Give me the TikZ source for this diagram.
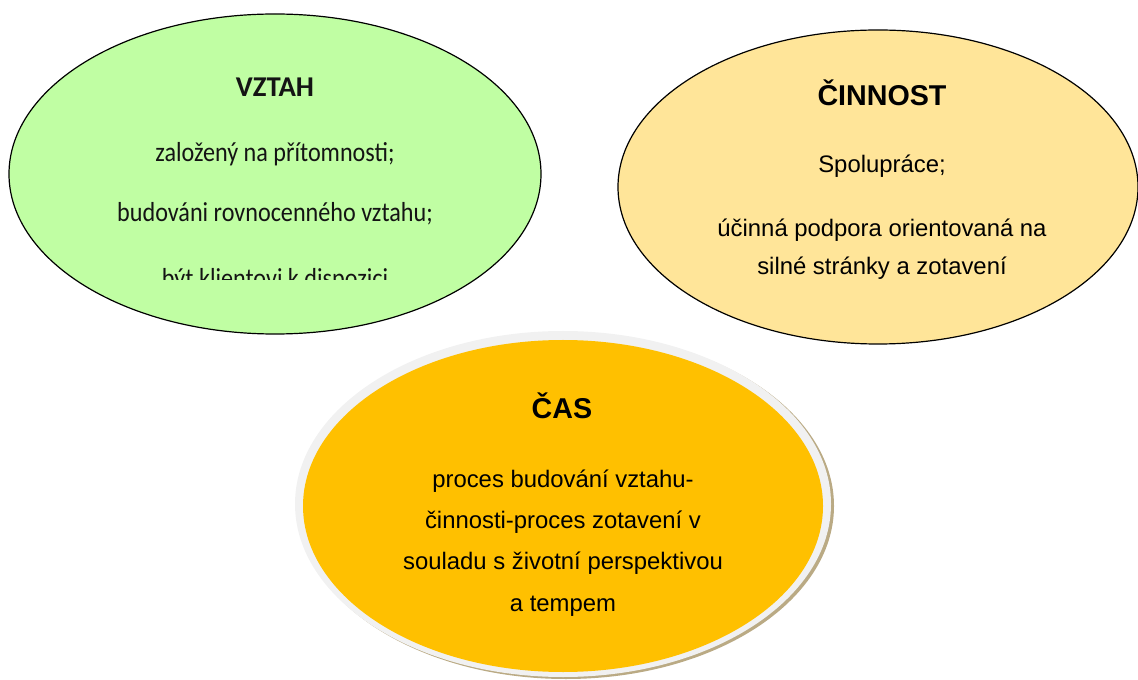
\documentclass[tikz,border=0pt]{standalone}
\usepackage{fontspec}
\setmainfont{Liberation Sans}
\newfontfamily\calfont{Carlito}
\newfontfamily\calnarrow[FakeStretch=0.88]{Carlito}
\usepackage{xcolor}
\usepackage{tikz}
\usetikzlibrary{shapes.geometric}
\definecolor{ink}{RGB}{20,20,20}
\definecolor{vztahfill}{RGB}{192,254,163}
\definecolor{cinfill}{RGB}{255,229,153}
\definecolor{casfill}{RGB}{255,192,0}
\definecolor{casrim}{RGB}{241,241,241}
\definecolor{casshade}{RGB}{186,170,132}
\tikzset{
  oval/.style={
    ellipse, draw=black, line width=0.9pt, fill=#1, inner sep=0pt,
  },
  oval/.default=white,
  ttl/.style={anchor=base, font=\fontsize{21.5}{24}\selectfont\bfseries, text=black},
  txt/.style={anchor=base, font=\fontsize{17.9}{21}\selectfont, text=black},
  cttl/.style={anchor=base, font=\calfont\fontsize{21.5}{24}\selectfont\bfseries, text=ink},
  ctxt/.style={anchor=base, font=\calnarrow\fontsize{20.6}{24}\selectfont, text=ink},
}

\begin{document}
\begin{tikzpicture}[x=0.75pt,y=-0.75pt]
  \useasboundingbox (0,0) rectangle (1138,680);

  % VZTAH
  \node[oval=vztahfill, minimum width=532*0.75pt, minimum height=320*0.75pt] (vztah) at (275,174) {};
  \node[cttl] (vztahT) at (275,97) {VZTAH};
  \node[ctxt] (vztah1) at (275,162) {založený na přítomnosti;};
  \node[ctxt] (vztah2) at (275,222) {budováni rovnocenného vztahu;};
  \begin{scope}
    \clip (0,0) rectangle (1138,280);
    \node[ctxt] (vztah3) at (275,288) {být klientovi k dispozici};
  \end{scope}

  % ČINNOST
  \node[oval=cinfill, minimum width=520*0.75pt, minimum height=314*0.75pt] (cin) at (878,187) {};
  \node[ttl] (cinT) at (882,106) {ČINNOST};
  \node[txt] (cin1) at (882,173) {Spolupráce;};
  \node[txt] (cin2) at (882,237) {účinná podpora orientovaná na};
  \node[txt] (cin3) at (882,275) {silné stránky a zotavení};

  % ČAS
  \node[oval=casshade, draw=none, minimum width=536*0.75pt, minimum height=346*0.75pt] (casS) at (566,506) {};
  \node[oval=casrim, draw=none, minimum width=536*0.75pt, minimum height=346*0.75pt] (casR) at (563,504) {};
  \node[oval=casfill, draw=none, minimum width=520*0.75pt, minimum height=332*0.75pt] (cas) at (563,506) {};
  \node[ttl] (casT) at (562,419) {ČAS};
  \node[txt] (cas1) at (563,487) {proces budování vztahu-};
  \node[txt] (cas2) at (563,528) {činnosti-proces zotavení v};
  \node[txt] (cas3) at (563,569) {souladu s životní perspektivou};
  \node[txt] (cas4) at (563,611) {a tempem};
\end{tikzpicture}
\end{document}
